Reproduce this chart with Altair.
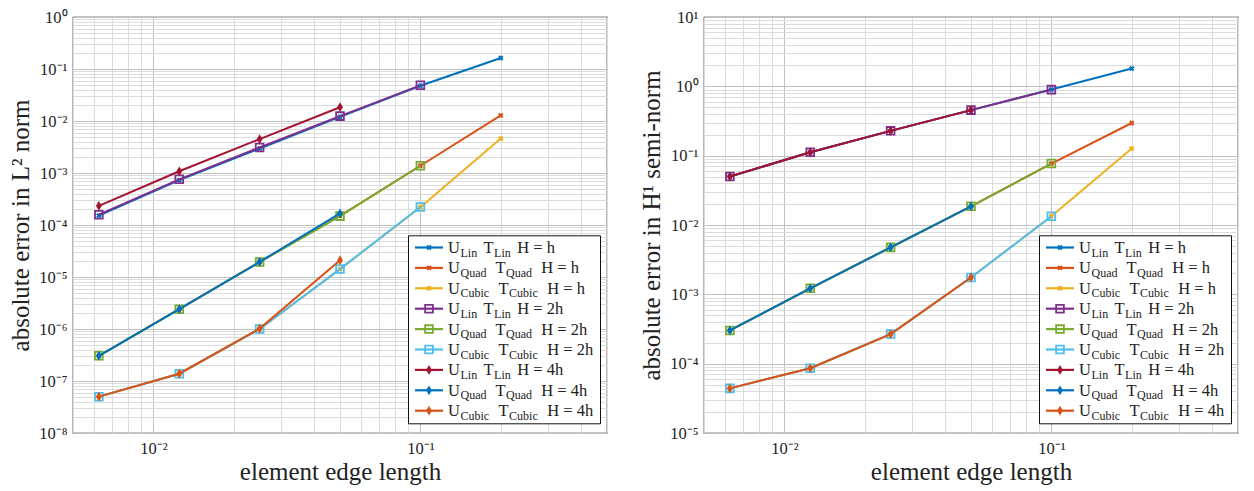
import altair as alt
import pandas as pd

# ---------------- data ----------------
H_VALUES = [0.2, 0.1, 0.05, 0.025, 0.0125, 0.00625]

SERIES_KEYS = ["Lin h", "Quad h", "Cubic h", "Lin 2h", "Quad 2h", "Cubic 2h", "Lin 4h", "Quad 4h", "Cubic 4h"]
SERIES_ELEMENT = ["Lin", "Quad", "Cubic", "Lin", "Quad", "Cubic", "Lin", "Quad", "Cubic"]
SERIES_HLABEL = ["h", "h", "h", "2h", "2h", "2h", "4h", "4h", "4h"]
SERIES_START = [0, 0, 0, 1, 1, 1, 2, 2, 2]
SERIES_COLORS = ["#0072BD", "#D95319", "#EDB120", "#7E2F8E", "#77AC30", "#4DBEEE", "#A2142F", "#0072BD", "#D95319"]
SERIES_MARKERS = ["x", "x", "x", "square", "square", "square", "diamond", "diamond", "diamond"]

# L2 norm errors
L2_LIN_H = [0.163, 0.0475, 0.0120, 0.00295, 0.00073, 0.000152]
L2_QUAD_H = [0.0128, 0.00138, 0.000150, 1.95e-5, 2.4e-6, 3.05e-7]
L2_CUBIC_H = [0.00462, 0.000220, 1.42e-5, 1.0e-6, 1.38e-7, 5.0e-8]
L2_LIN_2H = [0.0485, 0.0124, 0.0031, 0.000755, 0.000158]
L2_QUAD_2H = [0.00138, 0.000148, 1.95e-5, 2.4e-6, 3.05e-7]
L2_CUBIC_2H = [0.000222, 1.42e-5, 1.0e-6, 1.38e-7, 5.0e-8]
L2_LIN_4H = [0.0184, 0.00449, 0.00108, 0.000234]
L2_QUAD_4H = [0.000167, 1.95e-5, 2.4e-6, 3.05e-7]
L2_CUBIC_4H = [2.1e-5, 1.02e-6, 1.38e-7, 5.0e-8]

# H1 semi-norm errors
H1_LIN_H = [1.81, 0.90, 0.454, 0.228, 0.112, 0.050]
H1_QUAD_H = [0.296, 0.0769, 0.0186, 0.00476, 0.00122, 0.000301]
H1_CUBIC_H = [0.127, 0.0134, 0.00175, 0.000267, 8.6e-5, 4.4e-5]
H1_LIN_2H = [0.896, 0.454, 0.228, 0.112, 0.050]
H1_QUAD_2H = [0.0769, 0.0186, 0.00476, 0.00122, 0.000301]
H1_CUBIC_2H = [0.0134, 0.00175, 0.000267, 8.6e-5, 4.4e-5]
H1_LIN_4H = [0.454, 0.228, 0.112, 0.050]
H1_QUAD_4H = [0.0186, 0.00476, 0.00122, 0.000301]
H1_CUBIC_4H = [0.00175, 0.000267, 8.6e-5, 4.4e-5]

L2_SERIES = [L2_LIN_H, L2_QUAD_H, L2_CUBIC_H, L2_LIN_2H, L2_QUAD_2H, L2_CUBIC_2H, L2_LIN_4H, L2_QUAD_4H, L2_CUBIC_4H]
H1_SERIES = [H1_LIN_H, H1_QUAD_H, H1_CUBIC_H, H1_LIN_2H, H1_QUAD_2H, H1_CUBIC_2H, H1_LIN_4H, H1_QUAD_4H, H1_CUBIC_4H]

X_DOMAIN = [0.005, 0.5]
L2_DOMAIN = [1e-8, 1.0]
H1_DOMAIN = [1e-5, 10.0]

X_TITLE = "element edge length"
L2_TITLE = "absolute error in L² norm"
H1_TITLE = "absolute error in H¹ semi-norm"

# ---------------- layout ----------------
W, H = 534, 416
FONT = "Liberation Serif"
TEXT_COLOR = "#222222"
DIAMOND = "M0,-1L0.6,0L0,1L-0.6,0Z"


def log_grid(lo, hi):
    vals = []
    for e in range(-10, 4):
        for k in range(1, 10):
            v = float(f"{k}e{e}")
            if lo * 0.999 <= v <= hi * 1.001:
                vals.append(v)
    return vals


E = "round(log(datum.value)/LN10)"
IS_DEC = f"abs(log(datum.value)/LN10 - {E}) < 0.01"
LABEL_EXPR = (f"{IS_DEC} ? '10' + (datum.value < 0.9 ? '⁻' : '') + "
              f"substring('⁰¹²³⁴⁵⁶⁷⁸⁹', abs({E}), abs({E}) + 1) : ''")
GRID_COLOR = alt.condition(IS_DEC, alt.value("#c0c0c0"), alt.value("#dcdcdc"))


def marker_layer(base, marker, color, x_enc, y_enc):
    if marker == "x":
        return base.mark_point(shape="cross", angle=45, filled=True, size=30, color=color,
                               opacity=1).encode(x=x_enc, y=y_enc)
    if marker == "square":
        return base.mark_point(shape="square", filled=False, size=60, strokeWidth=1.8,
                               color=color, opacity=1).encode(x=x_enc, y=y_enc)
    return base.mark_point(shape=DIAMOND, filled=True, size=95, color=color,
                           opacity=1).encode(x=x_enc, y=y_enc)


# legend geometry (plot-area pixels)
BOX_X0, BOX_X1, BOX_Y0, BOX_Y1 = 335.5, 527.5, 218.8, 406.8
ROW0, ROW_STEP = 230.5, 20.4
LINE_X0, LINE_X1, MARK_X, TEXT_X = 342, 370, 356, 375
SUB_W = {"Lin": 15.6, "Quad": 27.6, "Cubic": 30.6}


def legend_layer():
    rows = []
    main_txt, sub_txt = [], []
    for i, key in enumerate(SERIES_KEYS):
        y = ROW0 + ROW_STEP * i
        el = SERIES_ELEMENT[i]
        rows.append({"key": key, "y": y, "x0": LINE_X0, "x1": LINE_X1, "xm": MARK_X,
                     "marker": SERIES_MARKERS[i]})
        sw = SUB_W[el]
        xu = TEXT_X
        xs1 = xu + 12.5
        xt = xs1 + sw + 7.5
        xs2 = xt + 10.5
        xh = xs2 + sw + 7.5
        main_txt += [{"x": xu, "y": y + 5.5, "t": "U"},
                     {"x": xt, "y": y + 5.5, "t": "T"},
                     {"x": xh, "y": y + 5.5, "t": "H = " + SERIES_HLABEL[i]}]
        sub_txt += [{"x": xs1, "y": y + 9.0, "t": el},
                    {"x": xs2, "y": y + 9.0, "t": el}]
    rdf = pd.DataFrame(rows)
    px = alt.Scale(domain=[0, W], range=[0, W], nice=False, zero=False)
    py = alt.Scale(domain=[0, H], range=[0, H], nice=False, zero=False)
    cscale = alt.Scale(domain=SERIES_KEYS, range=SERIES_COLORS)
    col = alt.Color("key:N", scale=cscale, legend=None)

    box = alt.Chart(pd.DataFrame({"a": [0]})).mark_rect(
        fill="white", stroke="#111111", strokeWidth=1).encode(
        x=alt.value(BOX_X0), x2=alt.value(BOX_X1), y=alt.value(BOX_Y0), y2=alt.value(BOX_Y1))
    lines = alt.Chart(rdf).mark_rule(strokeWidth=2.2).encode(
        x=alt.X("x0:Q", scale=px, axis=None), x2="x1:Q",
        y=alt.Y("y:Q", scale=py, axis=None), color=col)
    marks = []
    for m in ["x", "square", "diamond"]:
        sub = rdf[rdf["marker"] == m]
        base = alt.Chart(sub)
        if m == "x":
            mk = base.mark_point(shape="cross", angle=45, filled=True, size=30, opacity=1)
        elif m == "square":
            mk = base.mark_point(shape="square", filled=False, size=60, strokeWidth=1.8, opacity=1)
        else:
            mk = base.mark_point(shape=DIAMOND, filled=True, size=95, opacity=1)
        marks.append(mk.encode(x=alt.X("xm:Q", scale=px, axis=None),
                               y=alt.Y("y:Q", scale=py, axis=None), color=col))
    t_main = alt.Chart(pd.DataFrame(main_txt)).mark_text(
        align="left", baseline="alphabetic", font=FONT, fontSize=16.5, color=TEXT_COLOR).encode(
        x=alt.X("x:Q", scale=px, axis=None), y=alt.Y("y:Q", scale=py, axis=None), text="t:N")
    t_sub = alt.Chart(pd.DataFrame(sub_txt)).mark_text(
        align="left", baseline="alphabetic", font=FONT, fontSize=12, color=TEXT_COLOR).encode(
        x=alt.X("x:Q", scale=px, axis=None), y=alt.Y("y:Q", scale=py, axis=None), text="t:N")
    return alt.layer(box, lines, *marks, t_main, t_sub)


def panel(series_values, ydomain, ytitle):
    x_axis = alt.Axis(values=log_grid(*X_DOMAIN), labelExpr=LABEL_EXPR, title=X_TITLE,
                      gridColor=GRID_COLOR, labelOverlap=False, labelFlush=False,
                      labelPadding=7, titlePadding=3)
    y_axis = alt.Axis(values=log_grid(*ydomain), labelExpr=LABEL_EXPR, title=ytitle,
                      gridColor=GRID_COLOR, labelOverlap=False, labelFlush=False,
                      labelPadding=6, titlePadding=5)
    x_enc = alt.X("h:Q", scale=alt.Scale(type="log", domain=X_DOMAIN, nice=False), axis=x_axis)
    y_enc = alt.Y("err:Q", scale=alt.Scale(type="log", domain=ydomain, nice=False), axis=y_axis)
    layers = []
    for i, vals in enumerate(series_values):
        df = pd.DataFrame({"h": H_VALUES[SERIES_START[i]:], "err": vals})
        base = alt.Chart(df)
        layers.append(base.mark_line(color=SERIES_COLORS[i], strokeWidth=2).encode(x=x_enc, y=y_enc))
        layers.append(marker_layer(base, SERIES_MARKERS[i], SERIES_COLORS[i], x_enc, y_enc))
    data_layer = alt.layer(*layers)
    return alt.layer(data_layer, legend_layer()).resolve_scale(
        x="independent", y="independent").properties(width=W, height=H)


left = panel(L2_SERIES, L2_DOMAIN, L2_TITLE)
right = panel(H1_SERIES, H1_DOMAIN, H1_TITLE)

chart = alt.hconcat(left, right, spacing=31).configure(
    padding={"left": 0, "top": 0, "right": 0, "bottom": 0}, background="white"
).configure_view(
    stroke="#111111", strokeWidth=1.2
).configure_axis(
    domain=False, ticks=False,
    labelFont=FONT, labelFontSize=16.5, labelColor=TEXT_COLOR,
    titleFont=FONT, titleFontSize=25, titleFontWeight="normal", titleColor=TEXT_COLOR,
    gridWidth=1,
)

chart.save("out.html", embed_options={"renderer": "svg", "actions": False})
